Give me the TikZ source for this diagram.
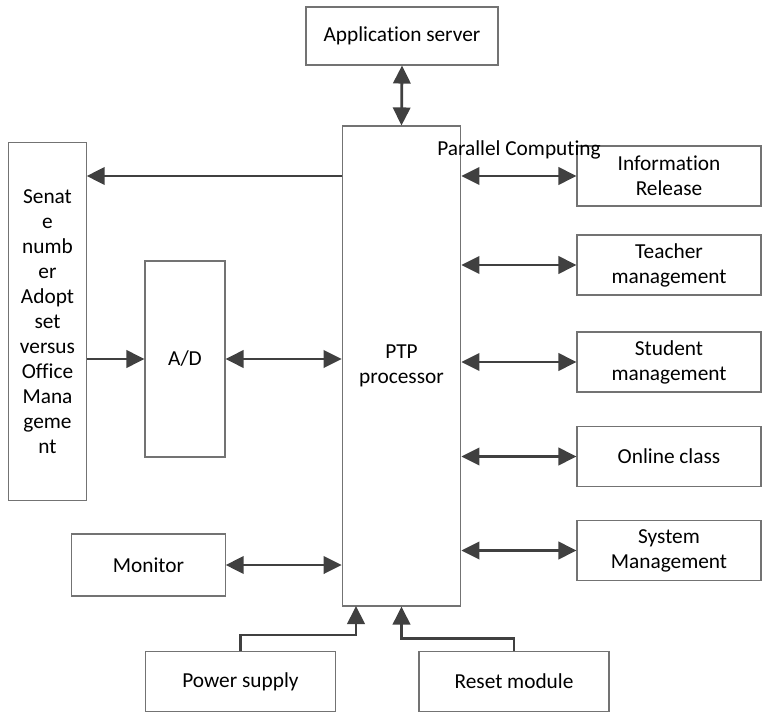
\documentclass[tikz,border=0pt]{standalone}
\usepackage{fontspec}
\setmainfont{Carlito}[Ligatures=NoCommon]
\usetikzlibrary{arrows.meta}
\definecolor{boxgray}{RGB}{115,115,115}
\definecolor{arrgray}{RGB}{64,64,64}
\begin{document}
\begin{tikzpicture}[x=0.75pt,y=0.75pt,yscale=-1,xscale=1,
  blk/.style={draw=boxgray,line width=0.8pt,fill=white,inner sep=0pt,align=center,
    font=\fontsize{16}{18.8}\selectfont},
  lnk/.style={draw=arrgray,line width=2.1pt,-{Triangle[length=13.5pt,width=13pt]}},
  lnk2/.style={lnk,{Triangle[length=13.5pt,width=13pt]}-{Triangle[length=13.5pt,width=13pt]}}]
\useasboundingbox (0,0) rectangle (762,712);

%Blocks
\node[blk,minimum width=144pt,minimum height=43.5pt] (app) at (402,36) {Application server};
\node[blk,minimum width=89pt,minimum height=360pt] (ptp) at (401.5,366) {PTP\\processor};
\node[blk,minimum width=58pt,minimum height=269pt] (senate) at (47.5,321.5)
  {Senat\\e\\numb\\er\\Adopt\\set\\versus\\Office\\Mana\\geme\\nt};
\node[blk,minimum width=60pt,minimum height=147pt] (ad) at (185,359) {A/D};
\node[blk,minimum width=115pt,minimum height=46.5pt] (monitor) at (148.5,565) {Monitor};
\node[blk,minimum width=143pt,minimum height=45pt] (power) at (240.5,681.5) {Power supply};
\node[blk,minimum width=142.5pt,minimum height=44.5pt] (reset) at (514,681.5) {Reset module};

%Right column
\node[blk,minimum width=138pt,minimum height=45pt] (info) at (669,176) {Information\\Release};
\node[blk,minimum width=138pt,minimum height=45pt] (teacher) at (669,265) {Teacher\\management};
\node[blk,minimum width=138pt,minimum height=45pt] (student) at (669,362) {Student\\management};
\node[blk,minimum width=138pt,minimum height=45pt] (online) at (669,456.5) {Online class};
\node[blk,minimum width=138pt,minimum height=45pt] (system) at (669,550.5) {System\\Management};

% Text Node
\node[font=\fontsize{16}{18.8}\selectfont,inner sep=0pt] (par) at (519,150) {Parallel Computing};

%Links
\draw[lnk2] (app.south) -- (ptp.north);
\draw[lnk] (ptp.west |- info) -- (senate.east |- info);
\draw[lnk] (senate.east |- ad) -- (ad.west);
\draw[lnk2] (ad.east) -- (ptp.west |- ad);
\draw[lnk2] (monitor.east) -- (ptp.west |- monitor);
\draw[lnk2] (ptp.east |- info) -- (info.west);
\draw[lnk2] (ptp.east |- teacher) -- (teacher.west);
\draw[lnk2] (ptp.east |- student) -- (student.west);
\draw[lnk2] (ptp.east |- online) -- (online.west);
\draw[lnk2] (ptp.east |- system) -- (system.west);

%Feeds from below
\coordinate (pin) at (356,606);
\draw[lnk] (power.north) -- ++(0,-16) -| (pin);
\draw[lnk] (reset.north) -- ++(0,-13) -| (ptp.south);

\end{tikzpicture}
\end{document}
